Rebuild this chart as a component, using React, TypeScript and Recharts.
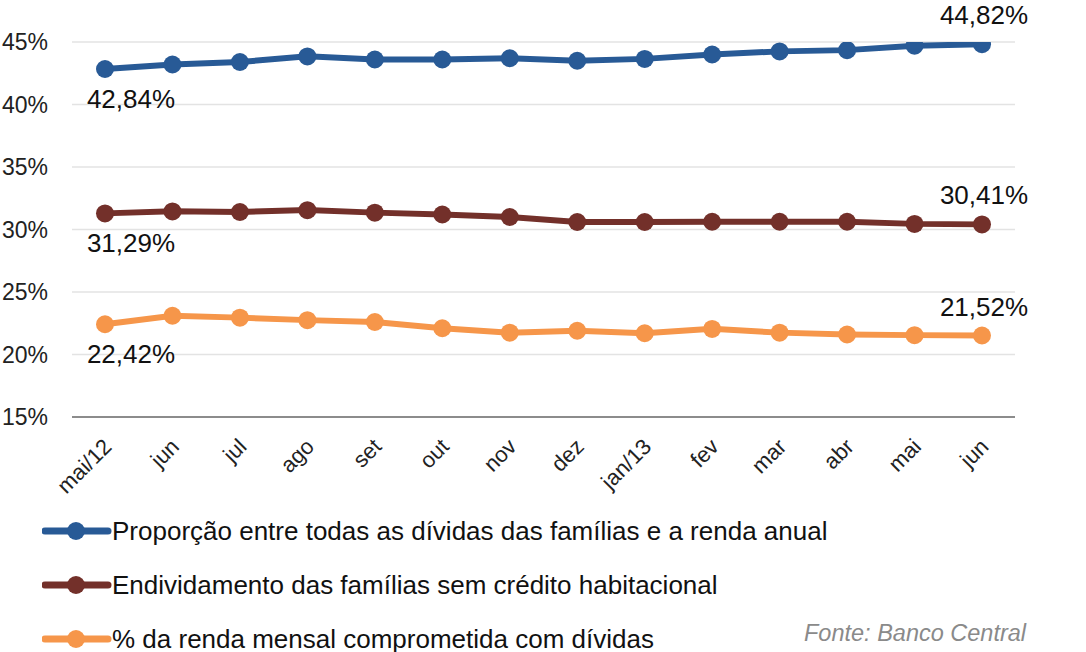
import React from 'react';
import { LineChart, Line, XAxis, YAxis, CartesianGrid, Legend, LabelList } from 'recharts';

const categories = ['mai/12', 'jun', 'jul', 'ago', 'set', 'out', 'nov', 'dez', 'jan/13', 'fev', 'mar', 'abr', 'mai', 'jun'];
const proporcao = [42.84, 43.2, 43.4, 43.85, 43.6, 43.6, 43.7, 43.5, 43.65, 44.0, 44.25, 44.35, 44.7, 44.82];
const semHabitacional = [31.29, 31.45, 31.4, 31.55, 31.35, 31.2, 31.0, 30.6, 30.6, 30.62, 30.62, 30.62, 30.45, 30.41];
const rendaMensal = [22.42, 23.1, 22.95, 22.75, 22.6, 22.1, 21.75, 21.9, 21.7, 22.05, 21.75, 21.6, 21.55, 21.52];
const yTicks = [15, 20, 25, 30, 35, 40, 45];

const seriesNames = [
  'Proporção entre todas as dívidas das famílias e a renda anual',
  'Endividamento das famílias sem crédito habitacional',
  '% da renda mensal comprometida com dívidas',
];
const colors = ['#285a96', '#73302a', '#f6964a'];

const data = categories.map((c, i) => ({
  cat: c,
  a: proporcao[i],
  b: semHabitacional[i],
  c: rendaMensal[i],
}));

const FONT = '"Liberation Sans", Arial, sans-serif';
const fmt = (v: number) => v.toFixed(2).replace('.', ',') + '%';

const makeLabel = (lastN: number) => (props: any) => {
  const { x, y, value, index } = props;
  if (index === 0) {
    return (
      <text x={x + 26} y={y + 39} textAnchor="middle" fontSize={26} fontFamily={FONT} fill="#111">
        {fmt(value)}
      </text>
    );
  }
  if (index === lastN - 1) {
    return (
      <text x={x + 2} y={y - 20} textAnchor="middle" fontSize={26} fontFamily={FONT} fill="#111">
        {fmt(value)}
      </text>
    );
  }
  return null;
};

const XTick = (props: any) => {
  const { x, y, payload } = props;
  const ax = x + 8;
  const ay = y + 23;
  return (
    <text
      x={ax}
      y={ay}
      textAnchor="end"
      fontSize={22}
      fontFamily={FONT}
      fill="#222"
      transform={`rotate(-45, ${ax}, ${ay})`}
    >
      {payload.value}
    </text>
  );
};

const LegendContent = () => (
  <div style={{ fontFamily: FONT, position: 'relative', width: 1000, height: 150 }}>
    {seriesNames.map((n, i) => (
      <div key={n} style={{ position: 'absolute', left: 0, top: i * 54, height: 30, display: 'flex', alignItems: 'center' }}>
        <svg width={70} height={30} style={{ display: 'block' }}>
          <line x1={3} y1={15} x2={66} y2={15} stroke={colors[i]} strokeWidth={7} strokeLinecap="round" />
          <circle cx={34} cy={15} r={9} fill={colors[i]} />
        </svg>
        <span style={{ fontSize: 26, color: '#111', whiteSpace: 'nowrap' }}>{n}</span>
      </div>
    ))}
    <div style={{ position: 'absolute', left: 762, top: 104, fontSize: 23.5, fontStyle: 'italic', color: '#8a8a8a', whiteSpace: 'nowrap' }}>
      Fonte: Banco Central
    </div>
  </div>
);

export default function App() {
  const keys = ['a', 'b', 'c'];
  return (
    <div style={{ position: 'absolute', left: 0, top: 0, width: 1086, height: 652, background: '#fff', overflow: 'hidden' }}>
      <LineChart width={1086} height={652} data={data} margin={{ top: 42, right: 71, bottom: 0, left: 0 }}>
        <CartesianGrid vertical={false} stroke="#e3e3e3" strokeWidth={1.5} />
        <XAxis
          dataKey="cat"
          allowDuplicatedCategory={true}
          padding={{ left: 33, right: 33 }}
          tick={<XTick />}
          tickLine={false}
          axisLine={{ stroke: '#8c8c8c', strokeWidth: 2 }}
          height={235}
          interval={0}
        />
        <YAxis
          domain={[15, 45]}
          ticks={yTicks}
          width={72}
          tickLine={false}
          axisLine={false}
          tickMargin={18}
          tickFormatter={(v: number) => `${v}%`}
          tick={{ fontSize: 23, fill: '#222', fontFamily: FONT }}
          allowDataOverflow
        />
        <Legend
          layout="vertical"
          align="center"
          verticalAlign="middle"
          wrapperStyle={{ top: 516, left: 42, width: 1000 }}
          content={<LegendContent />}
        />
        {keys.map((k, i) => (
          <Line
            key={k}
            dataKey={k}
            name={seriesNames[i]}
            stroke={colors[i]}
            strokeWidth={6}
            dot={{ r: 9, fill: colors[i], stroke: colors[i], strokeWidth: 0 }}
            activeDot={false}
            isAnimationActive={false}
          >
            <LabelList dataKey={k} content={makeLabel(categories.length)} />
          </Line>
        ))}
      </LineChart>
    </div>
  );
}
